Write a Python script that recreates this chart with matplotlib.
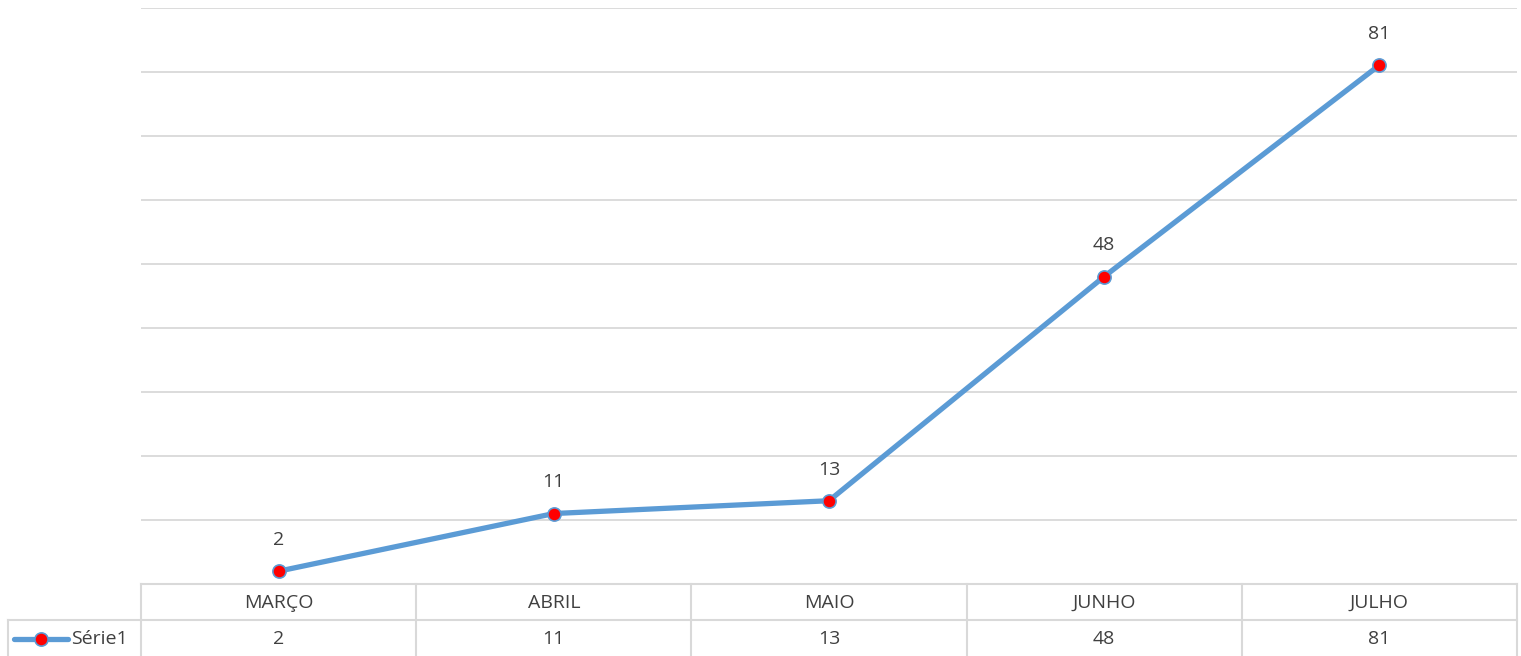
import matplotlib
matplotlib.use("Agg")
import matplotlib.pyplot as plt

categories = ["MARÇO", "ABRIL", "MAIO", "JUNHO", "JULHO"]
values = [2, 11, 13, 48, 81]
series_name = "Série1"

W, H = 1521, 656
fig = plt.figure(figsize=(W / 100, H / 100), dpi=100)
plt.rcParams['font.family'] = ['Open Sans', 'DejaVu Sans']

left, right = 141, 1517
y_bottom, y_top = 584, 7.5
ax = fig.add_axes([left / W, 1 - y_bottom / H, (right - left) / W, (y_bottom - y_top) / H])
ax.set_xlim(-0.5, len(categories) - 0.5)
ax.set_ylim(0, 90)
for s in ax.spines.values():
    s.set_visible(False)
ax.set_xticks([])
ax.set_yticks([])
grid_c = "#d9d9d9"
for g in range(10, 91, 10):
    ax.axhline(g, color=grid_c, lw=1.3, zorder=0)

x = list(range(len(categories)))
line_c = "#5b9bd5"
text_c = "#404040"
fs = 14
ax.plot(x, values, color=line_c, lw=3.8, solid_capstyle='round', zorder=2)
ax.plot(x, values, 'o', ms=9.5, mfc="#ff0000", mec=line_c, mew=1.2, zorder=3)
for xi, v in zip(x, values):
    ax.annotate(str(v), (xi, v), xytext=(0, 16), textcoords='offset points',
                ha='center', va='bottom', fontsize=fs, color=text_c)

# data table (figure pixel coordinates overlay)
ov = fig.add_axes([0, 0, 1, 1], facecolor='none')
ov.set_xlim(0, W)
ov.set_ylim(H, 0)
ov.axis('off')
tc = "#d9d9d9"
lw = 1.5
row1_top, row_mid, row_bot = 584, 620, 656
ov.plot([left, right], [row1_top, row1_top], color=tc, lw=lw)
ov.plot([8, right], [row_mid, row_mid], color=tc, lw=lw)
ov.plot([8, 8], [row_mid, row_bot], color=tc, lw=lw)
ov.plot([left, left], [row1_top, row_bot], color=tc, lw=lw)
col_w = (right - left) / len(categories)
for i in range(1, len(categories) + 1):
    xb = left + i * col_w
    ov.plot([xb, xb], [row1_top, row_bot], color=tc, lw=lw)
for i, (c, v) in enumerate(zip(categories, values)):
    xc = left + (i + 0.5) * col_w
    ov.text(xc, (row1_top + row_mid) / 2 + 1, c, ha='center', va='center', fontsize=fs, color=text_c)
    ov.text(xc, (row_mid + row_bot) / 2 + 1, str(v), ha='center', va='center', fontsize=fs, color=text_c)
# legend key
ym = (row_mid + row_bot) / 2 + 1
ov.plot([14, 68], [ym, ym], color=line_c, lw=3.8, solid_capstyle='round')
ov.plot([41], [ym], 'o', ms=9.5, mfc="#ff0000", mec=line_c, mew=1.2)
ov.text(71, ym, series_name, ha='left', va='center', fontsize=fs, color=text_c)

fig.savefig("out.png", dpi=100, facecolor='white')
